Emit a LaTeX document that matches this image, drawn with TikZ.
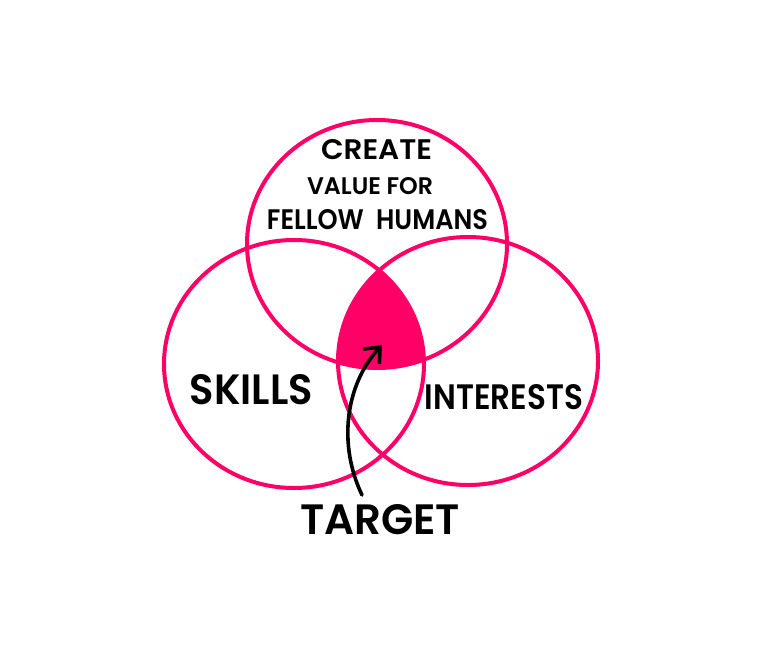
\documentclass[tikz,border=0pt]{standalone}
\usepackage{fontspec}
\setmainfont{Poppins}[UprightFont=* SemiBold]
\usepackage{graphicx}
\usetikzlibrary{arrows.meta}
\definecolor{venn}{HTML}{FF0066}
\begin{document}
\begin{tikzpicture}[x=1pt,y=-1pt,
  ring/.style={draw=venn,line width=4pt},
  lbl/.style={inner sep=0pt,text=black},
  pointer/.style={draw=black,line width=3.6pt,line cap=round,-{Straight Barb[length=13pt,width=22pt,line width=3.6pt]}}]
\useasboundingbox (0,0) rectangle (770,650);
\coordinate (ctop) at (377,244);
\coordinate (cleft) at (294,364);
\coordinate (cright) at (468,361);
\begin{scope}
  \clip (ctop) ellipse [x radius=130, y radius=124];
  \clip (cleft) ellipse [x radius=130, y radius=124];
  \fill[venn] (cright) ellipse [x radius=130, y radius=124];
\end{scope}
\draw[ring] (ctop) ellipse [x radius=130, y radius=124];
\draw[ring] (cleft) ellipse [x radius=130, y radius=124];
\draw[ring] (cright) ellipse [x radius=130, y radius=124];
\node[lbl] (create) at (376.5,150) {\resizebox{111pt}{20pt}{CREATE}};
\node[lbl] (value) at (370,186.5) {\resizebox{126pt}{17pt}{VALUE FOR}};
\node[lbl] (fellow) at (377.5,220) {\resizebox{221pt}{20pt}{FELLOW\ \ HUMANS}};
\node[lbl] (skills) at (251.5,390) {\resizebox{123pt}{30pt}{SKILLS}};
\node[lbl] (interests) at (504,397.5) {\resizebox{158pt}{25pt}{INTERESTS}};
\node[lbl] (target) at (380,520) {\resizebox{160pt}{30pt}{TARGET}};
\coordinate (tail) at (362,495);
\coordinate (tip) at (382,345);
\draw[pointer] (tail) .. controls (338,445) and (345,385) .. (tip);
\end{tikzpicture}
\end{document}
